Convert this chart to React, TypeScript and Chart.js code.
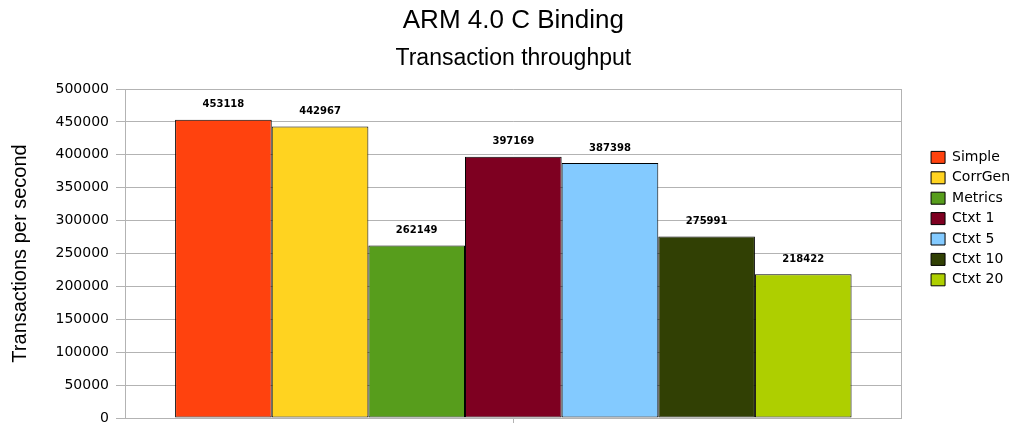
import React, { useEffect, useRef } from "react";
import { Chart, registerables } from "chart.js";

Chart.register(...registerables);

const titleText = "ARM 4.0 C Binding";
const subtitleText = "Transaction throughput";
const yAxisTitle = "Transactions per second";
const categories = [""];
const seriesNames = ["Simple", "CorrGen", "Metrics", "Ctxt 1", "Ctxt 5", "Ctxt 10", "Ctxt 20"];
const seriesValues = [453118, 442967, 262149, 397169, 387398, 275991, 218422];
const seriesColors = ["#ff420e", "#ffd320", "#579d1c", "#7e0021", "#83caff", "#314004", "#aecf00"];
const yMin = 0;
const yMax = 500000;
const yStep = 50000;

const GRID = "#b3b3b3";

const valueLabels = {
  id: "valueLabels",
  afterDatasetsDraw(chart: any) {
    const ctx = chart.ctx;
    ctx.save();
    ctx.font = "bold 10px 'DejaVu Sans'";
    ctx.fillStyle = "#000000";
    ctx.textAlign = "center";
    ctx.textBaseline = "middle";
    chart.data.datasets.forEach((ds: any, i: number) => {
      const meta = chart.getDatasetMeta(i);
      meta.data.forEach((el: any, j: number) => {
        ctx.fillText(String(ds.data[j]), el.x, el.y - 15);
      });
    });
    ctx.restore();
  },
};

export default function App() {
  const ref = useRef<HTMLCanvasElement | null>(null);
  useEffect(() => {
    if (!ref.current) return;
    const chart = new Chart(ref.current, {
      type: "bar",
      data: {
        labels: categories,
        datasets: seriesNames.map((name, i) => ({
          label: name,
          data: [seriesValues[i]],
          backgroundColor: seriesColors[i],
          borderColor: "#000000",
          borderWidth: 1,
          borderSkipped: false,
          yAxisID: "y",
          categoryPercentage: 0.871,
          barPercentage: 1,
        })),
      },
      options: {
        animation: false,
        responsive: false,
        layout: { padding: { left: 0, right: -5, top: 0, bottom: 0 } },
        plugins: {
          title: {
            display: true,
            text: titleText,
            fullSize: false,
            color: "#000000",
            font: { family: "'Liberation Sans'", size: 26, weight: "normal", lineHeight: 1.2 },
            padding: { top: 5.5, bottom: 0 },
          },
          subtitle: {
            display: true,
            text: subtitleText,
            fullSize: false,
            color: "#000000",
            font: { family: "'Liberation Sans'", size: 23, weight: "normal", lineHeight: 1.2 },
            padding: { top: 8, bottom: 16.7 },
          },
          legend: {
            position: "right",
            align: "start",
            fullSize: false,
            title: {
              display: true,
              text: " ",
              font: { size: 10, lineHeight: 1 },
              padding: { top: 45, bottom: 0 },
            },
            labels: {
              boxWidth: 14,
              boxHeight: 12,
              padding: 6.4,
              color: "#000000",
              font: { family: "'DejaVu Sans'", size: 14 },
            },
          },
          tooltip: { enabled: false },
        },
        scales: {
          x: {
            type: "category",
            grid: {
              display: true,
              drawOnChartArea: false,
              drawTicks: true,
              tickLength: 5,
              offset: false,
              color: GRID,
            },
            border: { display: true, color: GRID },
            ticks: { display: false },
          },
          y: {
            position: "left",
            min: yMin,
            max: yMax,
            ticks: {
              stepSize: yStep,
              padding: 7,
              color: "#000000",
              font: { family: "'DejaVu Sans'", size: 14 },
              callback: (v: any) => String(v),
            },
            grid: { color: GRID, tickLength: 9 },
            border: { display: true, color: GRID },
            title: {
              display: true,
              text: yAxisTitle,
              color: "#000000",
              font: { family: "'Liberation Sans'", size: 20, lineHeight: 1.2 },
              padding: { top: 8, bottom: 0 },
            },
            afterFit: (scale: any) => {
              scale.width = 125;
              scale.paddingTop = 0;
              scale.paddingBottom = 0;
            },
          },
          y2: {
            position: "right",
            display: true,
            min: yMin,
            max: yMax,
            grid: { display: false, drawTicks: false },
            ticks: { display: false },
            border: { display: true, color: GRID },
            afterFit: (scale: any) => {
              scale.width = 23;
              scale.paddingTop = 0;
              scale.paddingBottom = 0;
            },
          },
        },
      },
      plugins: [valueLabels],
    });
    return () => chart.destroy();
  }, []);
  return (
    <canvas
      ref={ref}
      width={1015}
      height={423}
      style={{ position: "absolute", left: 0, top: 0, display: "block" }}
    />
  );
}
